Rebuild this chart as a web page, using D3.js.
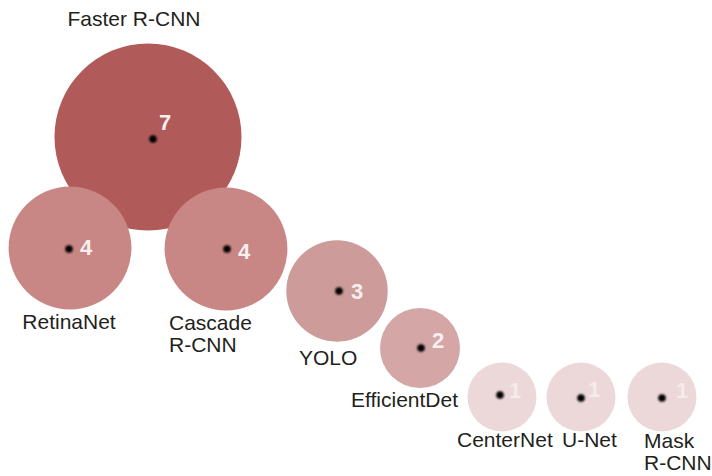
<!DOCTYPE html>
<html>
<head>
<meta charset="utf-8">
<script src="https://cdn.jsdelivr.net/npm/d3@7/dist/d3.min.js"></script>
<style>
  html, body { margin: 0; padding: 0; background: #fff; }
  svg { display: block; }
  .name { font-family: "Liberation Sans", Arial, sans-serif; font-size: 21px; fill: #231f20; }
  .value { font-family: "Liberation Sans", Arial, sans-serif; font-size: 22px; font-weight: bold; fill: #f8efef; }
</style>
</head>
<body>
<script>
// Data: papers per detection model
const models = ['Faster R-CNN', 'RetinaNet', 'Cascade R-CNN', 'YOLO', 'EfficientDet', 'CenterNet', 'U-Net', 'Mask R-CNN'];
const counts = [7, 4, 4, 3, 2, 1, 1, 1];

const width = 712;
const height = 476;

// Hand-laid bubble layout (slot per model): centre, value label offset, name label placement.
const layout = [
  { cx: 148, cy: 137, dot: [5, 2], val: [6, -9, 'start'], name: [134, 26, 'middle'], lines: 1 },
  { cx: 70, cy: 248, dot: [-1, 1], val: [11, 6, 'start'], name: [69, 329, 'middle'], lines: 1 },
  { cx: 226, cy: 249, dot: [1, 0], val: [11, 10, 'start'], name: [169, 330, 'start'], lines: 2 },
  { cx: 337, cy: 291, dot: [2, 0], val: [12, 8, 'start'], name: [299, 365, 'start'], lines: 1 },
  { cx: 420, cy: 348, dot: [1, 0], val: [11, 0, 'start'], name: [351, 407, 'start'], lines: 1 },
  { cx: 502, cy: 397, dot: [-2, -2], val: [9, 3, 'start'], name: [457, 447, 'start'], lines: 1 },
  { cx: 581, cy: 397, dot: [0, 1], val: [7, -1, 'start'], name: [562, 447, 'start'], lines: 1 },
  { cx: 662, cy: 397, dot: [0, 1], val: [14, 0, 'start'], name: [644, 448, 'start'], lines: 2 },
];

const rScale = d3.scaleLinear()
  .domain([1, 2, 7])
  .range([34.5, 40, 93.5]);

const fillScale = d3.scaleLinear()
  .domain([1, 2, 3, 4, 7])
  .range(['#ecd8d8', '#d4a6a6', '#cd9b9a', '#c88685', '#b05b5a']);

const nodes = models.map((name, i) => ({ name, value: counts[i], pos: layout[i] }));

const svg = d3.select('body').append('svg')
  .attr('width', width)
  .attr('height', height);

const defs = svg.append('defs');
defs.append('filter')
    .attr('id', 'soft')
    .attr('x', '-100%').attr('y', '-100%')
    .attr('width', '300%').attr('height', '300%')
  .append('feGaussianBlur')
    .attr('stdDeviation', 1);

// Big bubble first so the two below it sit on top.
const grps = svg.selectAll('.bubble')
  .data(nodes)
  .enter().append('g')
    .attr('class', 'bubble')
    .attr('transform', (d) => `translate(${d.pos.cx},${d.pos.cy})`);

grps.append('circle')
  .attr('r', (d) => rScale(d.value))
  .attr('fill', (d) => fillScale(d.value));

grps.append('circle')
  .attr('cx', (d) => d.pos.dot[0])
  .attr('cy', (d) => d.pos.dot[1])
  .attr('r', 3.8)
  .attr('fill', '#000')
  .attr('filter', 'url(#soft)');

grps.append('text')
  .attr('class', 'value')
  .attr('x', (d) => d.pos.dot[0] + d.pos.val[0])
  .attr('y', (d) => d.pos.dot[1] + d.pos.val[1])
  .attr('text-anchor', (d) => d.pos.val[2])
  .attr('fill-opacity', (d) => (d.value === 1 ? 0.85 : 1))
  .text((d) => d.value);

// Name labels (split into two lines where the layout asks for it)
svg.selectAll('.name')
  .data(nodes)
  .enter().append('text')
    .attr('class', 'name')
    .attr('x', (d) => d.pos.name[0])
    .attr('y', (d) => d.pos.name[1])
    .attr('text-anchor', (d) => d.pos.name[2])
    .each(function(d) {
      const t = d3.select(this);
      const parts = d.pos.lines === 2 ? d.name.split(' ') : [d.name];
      parts.forEach((p, k) => {
        t.append('tspan')
          .attr('x', d.pos.name[0])
          .attr('dy', k === 0 ? 0 : 22)
          .text(p);
      });
    });
</script>
</body>
</html>
